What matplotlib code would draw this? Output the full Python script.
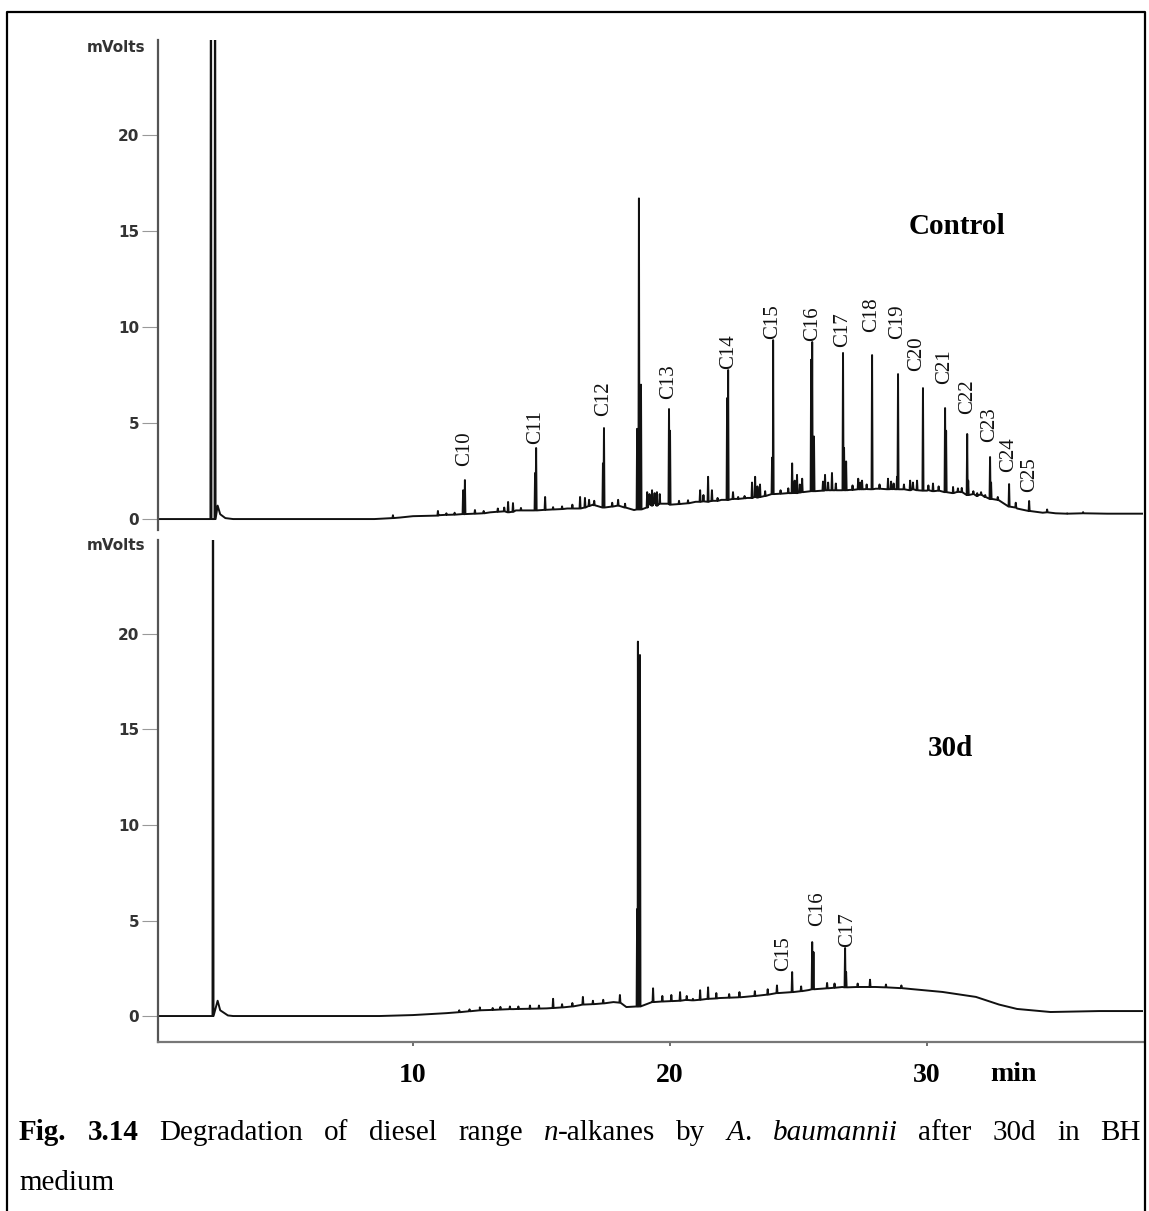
import matplotlib
matplotlib.use("Agg")
import matplotlib.pyplot as plt
from matplotlib.lines import Line2D
import numpy as np

# ---- chromatogram data (retention time in min, signal in mVolts) ----

# solvent front, off scale in both runs
solvent_t = [2.14, 2.30]
solvent_top = [40.0, 40.0]
solvent_base = [0.0, 0.0]

# control run: smooth hump under the peaks
ctrl_base_t = [0.0, 2.0, 2.4, 2.5, 2.7, 3.0, 8.5, 9.5, 10.0, 11.0, 12.0, 13.0, 14.0,
               15.0, 16.0, 17.0, 18.0, 18.6, 19.5, 20.5, 21.0, 22.0, 23.0, 24.0,
               25.0, 26.0, 27.0, 28.0, 29.0, 30.0, 31.0, 32.0, 33.0, 33.5, 34.0,
               34.5, 35.0, 36.0, 37.0, 38.5]
ctrl_base_y = [0.0, 0.0, 0.7, 0.25, 0.05, 0.0, 0.0, 0.08, 0.15, 0.2, 0.25, 0.35, 0.45,
               0.47, 0.55, 0.75, 0.7, 0.47, 0.75, 0.8, 0.9, 1.0, 1.1, 1.3,
               1.38, 1.48, 1.52, 1.58, 1.55, 1.48, 1.38, 1.25, 0.8, 0.55, 0.42,
               0.33, 0.3, 0.3, 0.28, 0.28]

# labelled n-alkanes, control
alk_names = ["C10", "C11", "C12", "C13", "C14", "C15", "C16", "C17", "C18",
             "C19", "C20", "C21", "C22", "C23", "C24", "C25"]
alk_t = [12.02, 14.79, 17.43, 19.96, 22.26, 24.01, 25.53, 26.73, 27.86,
         28.87, 29.84, 30.70, 31.56, 32.45, 33.19, 33.97]
alk_top = [2.03, 3.70, 4.74, 5.73, 7.76, 9.32, 9.22, 8.65, 8.54,
           7.55, 6.82, 5.78, 4.43, 3.23, 1.82, 0.94]
alk_base = [0.26, 0.45, 0.6, 0.8, 1.0, 1.3, 1.45, 1.5, 1.55,
            1.55, 1.48, 1.4, 1.25, 1.05, 0.65, 0.42]

# unlabelled peaks, shoulders and baseline noise, control
ctrl_minor_t = [11.95, 14.75, 17.39, 18.72, 18.79, 18.87, 20.0, 22.22, 23.97, 25.49,
                25.60, 26.77, 26.85, 30.74, 31.60, 32.49,
                9.22, 10.97, 12.41, 13.70, 13.89, 15.14, 16.50, 16.69, 17.98, 19.11,
                19.30, 19.49, 21.17, 21.48, 21.63, 22.45, 23.19, 23.31, 23.50, 24.75,
                24.94, 25.14, 26.03, 26.30, 27.32, 27.47, 28.48, 28.83, 29.34, 29.61,
                30.23, 31.01, 31.95, 32.26, 34.67, 35.45, 36.07,
                11.30, 11.62, 12.75, 13.30, 13.55, 14.20, 15.45, 15.80, 16.20, 16.85,
                17.05, 17.75, 18.25, 19.20, 19.40, 19.60, 20.35, 20.70, 21.30, 21.85,
                22.65, 22.90, 23.40, 23.70, 24.30, 24.60, 24.85, 25.05, 25.95, 26.15,
                26.45, 27.10, 27.40, 27.65, 28.15, 28.60, 28.70, 29.10, 29.45, 30.05,
                30.45, 31.20, 31.35, 31.80, 32.10, 32.75, 33.45]
ctrl_minor_top = [1.5, 2.4, 2.9, 4.7, 16.7, 7.0, 4.6, 6.3, 3.2, 8.3,
                  4.3, 3.7, 3.0, 4.6, 2.0, 1.9,
                  0.2, 0.42, 0.47, 0.89, 0.83, 1.15, 1.15, 1.1, 1.0, 1.4,
                  1.5, 1.4, 1.5, 2.2, 1.5, 1.4, 1.9, 2.2, 1.8, 2.9,
                  2.3, 2.1, 2.3, 2.4, 2.1, 2.0, 2.1, 2.2, 2.0, 2.0,
                  1.85, 1.67, 1.35, 1.25, 0.5, 0.3, 0.36,
                  0.3, 0.33, 0.42, 0.55, 0.6, 0.58, 0.62, 0.66, 0.75, 1.0,
                  0.95, 0.85, 0.8, 1.3, 1.35, 1.3, 0.95, 0.98, 1.25, 1.1,
                  1.15, 1.2, 1.7, 1.45, 1.5, 1.6, 2.0, 1.8, 1.95, 1.9,
                  1.85, 1.75, 1.9, 1.8, 1.8, 1.95, 1.85, 1.8, 1.9, 1.75,
                  1.7, 1.6, 1.62, 1.45, 1.4, 1.15, 0.85]
ctrl_minor_base = [0.26, 0.45, 0.6, 0.5, 0.5, 0.5, 0.75, 1.0, 1.3, 1.45,
                   1.45, 1.5, 1.5, 1.4, 1.25, 1.05,
                   0.05, 0.18, 0.28, 0.35, 0.38, 0.48, 0.55, 0.6, 0.7, 0.6,
                   0.7, 0.7, 0.9, 0.9, 0.95, 1.05, 1.1, 1.15, 1.15, 1.35,
                   1.35, 1.4, 1.5, 1.5, 1.55, 1.55, 1.55, 1.55, 1.5, 1.5,
                   1.45, 1.35, 1.2, 1.15, 0.35, 0.28, 0.3,
                   0.22, 0.23, 0.3, 0.38, 0.4, 0.45, 0.5, 0.52, 0.55, 0.68,
                   0.72, 0.65, 0.6, 0.8, 0.85, 0.8, 0.78, 0.82, 0.92, 0.95,
                   1.05, 1.08, 1.12, 1.2, 1.32, 1.35, 1.36, 1.38, 1.48, 1.5,
                   1.5, 1.52, 1.55, 1.56, 1.58, 1.56, 1.56, 1.55, 1.55, 1.5,
                   1.48, 1.42, 1.4, 1.3, 1.27, 1.0, 0.6]

# 30 d run
d30_base_t = [0.0, 2.0, 2.4, 2.5, 2.8, 3.0, 8.7, 10.0, 11.3, 12.6, 13.9, 15.2, 16.5,
              17.8, 18.3, 18.7, 19.3, 20.6, 21.9, 22.9, 24.2, 25.4, 26.7, 28.0,
              29.4, 30.6, 31.9, 32.8, 33.5, 34.8, 36.7, 38.5]
d30_base_y = [0.0, 0.0, 0.8, 0.3, 0.03, 0.0, 0.0, 0.05, 0.15, 0.3, 0.36, 0.4, 0.57,
              0.73, 0.47, 0.5, 0.73, 0.84, 0.94, 1.0, 1.2, 1.36, 1.52, 1.52,
              1.41, 1.26, 1.0, 0.6, 0.37, 0.21, 0.26, 0.26]

d30_names = ["C15", "C16", "C17"]
d30_t = [24.75, 25.53, 26.81]
d30_top = [2.3, 3.87, 3.56]
d30_base = [1.25, 1.4, 1.5]

d30_minor_t = [18.72, 18.75, 18.83, 25.58, 26.85,
               12.60, 13.77, 14.55, 15.45, 16.61, 18.05, 19.34, 20.39, 20.89, 21.17,
               21.48, 24.16, 26.11, 27.78,
               11.80, 12.20, 13.10, 13.40, 14.10, 14.90, 15.80, 16.20, 17.00, 17.40,
               19.70, 20.05, 20.65, 21.80, 22.30, 22.70, 23.30, 23.80, 25.10, 26.40,
               27.30, 28.40, 29.00]
d30_minor_top = [5.6, 19.6, 18.9, 3.35, 2.3,
                 0.45, 0.5, 0.55, 0.9, 1.0, 1.1, 1.45, 1.25, 0.9, 1.35,
                 1.5, 1.6, 1.73, 1.9,
                 0.3, 0.35, 0.42, 0.48, 0.5, 0.55, 0.62, 0.68, 0.8, 0.85,
                 1.05, 1.1, 1.05, 1.2, 1.15, 1.25, 1.3, 1.4, 1.55, 1.7,
                 1.7, 1.65, 1.6]
d30_minor_base = [0.5, 0.5, 0.5, 1.4, 1.5,
                  0.3, 0.36, 0.38, 0.42, 0.6, 0.7, 0.73, 0.8, 0.82, 0.85,
                  0.9, 1.2, 1.45, 1.52,
                  0.2, 0.25, 0.32, 0.34, 0.37, 0.39, 0.45, 0.5, 0.62, 0.66,
                  0.76, 0.78, 0.84, 0.92, 0.96, 0.98, 1.05, 1.12, 1.3, 1.48,
                  1.52, 1.5, 1.46]

y_ticks = [0, 5, 10, 15, 20]
x_ticks = [10, 20, 30]

# ---- figure ----
W, H = 1149, 1211
fig = plt.figure(figsize=(W / 100, H / 100), dpi=100)
fig.patch.set_facecolor("white")


def fx(px):
    return px / W


def fy(py):
    return 1 - py / H


def build_trace(base_t, base_y, groups, hw=0.02):
    pts = list(zip(base_t, base_y))
    for ts, tops, bases in groups:
        for t, top, b in zip(ts, tops, bases):
            pts += [(t - hw, b), (t, top), (t + hw, b)]
    pts.sort(key=lambda p: p[0])
    arr = np.array(pts)
    return arr[:, 0], arr[:, 1]


sans = "DejaVu Sans"
serif = "Liberation Serif"

ax1 = fig.add_axes([fx(158), fy(530), fx(1143) - fx(158), fy(40) - fy(530)])
ax2 = fig.add_axes([fx(158), fy(1042), fx(1143) - fx(158), fy(540) - fy(1042)])

for ax, ylo, yhi in [(ax1, -0.57, 24.95), (ax2, -1.36, 24.92)]:
    ax.set_xlim(0.08, 38.4)
    ax.set_ylim(ylo, yhi)
    ax.patch.set_alpha(0)
    for s in ["top", "right"]:
        ax.spines[s].set_visible(False)
    ax.spines["left"].set_color("#555555")
    ax.spines["left"].set_linewidth(1.6)
    ax.set_yticks(y_ticks)
    ax.set_yticklabels([str(v) for v in y_ticks])
    ax.tick_params(axis="y", length=11.5, width=0.8, color="#999999", pad=2,
                   labelsize=11, labelcolor="#333333")
    for lbl in ax.get_yticklabels():
        lbl.set_fontfamily(sans)
        lbl.set_fontweight("bold")

ax1.spines["bottom"].set_visible(False)
ax1.set_xticks([])

ax2.spines["bottom"].set_color("#777777")
ax2.spines["bottom"].set_linewidth(1.6)
ax2.set_xticks(x_ticks)
ax2.set_xticklabels([str(v) for v in x_ticks])
ax2.tick_params(axis="x", length=3, width=1.2, color="#555555", pad=12,
                labelsize=20)
for lbl in ax2.get_xticklabels():
    lbl.set_fontfamily(serif)
    lbl.set_fontweight("bold")

# traces
t1, y1 = build_trace(ctrl_base_t, ctrl_base_y,
                     [(solvent_t, solvent_top, solvent_base),
                      (alk_t, alk_top, alk_base),
                      (ctrl_minor_t, ctrl_minor_top, ctrl_minor_base)])
ax1.plot(t1, y1, color="#111111", lw=1.4)

t2, y2 = build_trace(d30_base_t, d30_base_y,
                     [([2.22], [40.0], [0.0]),
                      (d30_t, d30_top, d30_base),
                      (d30_minor_t, d30_minor_top, d30_minor_base)])
ax2.plot(t2, y2, color="#111111", lw=1.4)

# peak labels (offsets in pixels: sideways, lift above the peak top)
ctrl_shift = [0, 0, 0, 0, 0, 0, 0, 0, 0, 0, -6, 0, 0, 0, 0, 0]
ctrl_lift = [13, 3, 11, 9, 0, 0, 0, 5, 22, 34, 16, 23, 19, 14, 11, 8]
for name, t, top, dx, dy in zip(alk_names, alk_t, alk_top, ctrl_shift, ctrl_lift):
    ax1.annotate(name, (t, top), xytext=(dx * 0.72, dy * 0.72 + 1),
                 textcoords="offset points", rotation=90, ha="center",
                 va="bottom", fontfamily=serif, fontsize=15, color="#111111")

d30_shift = [-9, 5, 3]
d30_lift = [0, 15, 0]
for name, t, top, dx, dy in zip(d30_names, d30_t, d30_top, d30_shift, d30_lift):
    ax2.annotate(name, (t, top), xytext=(dx * 0.72, dy * 0.72 + 1),
                 textcoords="offset points", rotation=90, ha="center",
                 va="bottom", fontfamily=serif, fontsize=15, color="#111111")

# panel titles and units
fig.text(fx(957), fy(226), "Control", ha="center", va="center",
         fontfamily=serif, fontweight="bold", fontsize=21)
fig.text(fx(950), fy(748), "30d", ha="center", va="center",
         fontfamily=serif, fontweight="bold", fontsize=21)
for py in (47, 545):
    fig.text(fx(145), fy(py), "mVolts", ha="right", va="center",
             fontfamily=sans, fontweight="bold", fontsize=11, color="#333333")
fig.text(fx(1013), fy(1081), "min", ha="center", va="baseline",
         fontfamily=serif, fontweight="bold", fontsize=20)

# frame round the figure
fig.add_artist(Line2D([fx(6.5), fx(6.5), fx(1144.5), fx(1144.5)],
                      [0, fy(12), fy(12), 0], color="black", lw=1.6,
                      transform=fig.transFigure))

# caption, justified between the frame edges
caption_words = [
    [("Fig.", "bold", "normal")],
    [("3.14", "bold", "normal")],
    [("Degradation", "normal", "normal")],
    [("of", "normal", "normal")],
    [("diesel", "normal", "normal")],
    [("range", "normal", "normal")],
    [("n", "normal", "italic"), ("-alkanes", "normal", "normal")],
    [("by", "normal", "normal")],
    [("A", "normal", "italic"), (".", "normal", "normal")],
    [("baumannii", "normal", "italic")],
    [("after", "normal", "normal")],
    [("30d", "normal", "normal")],
    [("in", "normal", "normal")],
    [("BH", "normal", "normal")],
]
cap_size = 21
fig.canvas.draw()
renderer = fig.canvas.get_renderer()
word_parts = []
word_widths = []
for word in caption_words:
    parts = []
    wsum = 0
    for text, weight, style in word:
        t = fig.text(0, fy(1140), text, ha="left", va="baseline",
                     fontfamily=serif, fontweight=weight, fontstyle=style,
                     fontsize=cap_size)
        w = t.get_window_extent(renderer).width
        parts.append((t, w))
        wsum += w
    word_parts.append(parts)
    word_widths.append(wsum)

left_px, right_px = 19, 1141
gap = (right_px - left_px - sum(word_widths)) / (len(caption_words) - 1)
x = left_px
for parts, wsum in zip(word_parts, word_widths):
    xx = x
    for t, w in parts:
        t.set_x(fx(xx))
        xx += w
    x += wsum + gap

fig.text(fx(19), fy(1190), "medium", ha="left", va="baseline",
         fontfamily=serif, fontsize=cap_size)

fig.savefig("out.png", dpi=100, facecolor="white")
